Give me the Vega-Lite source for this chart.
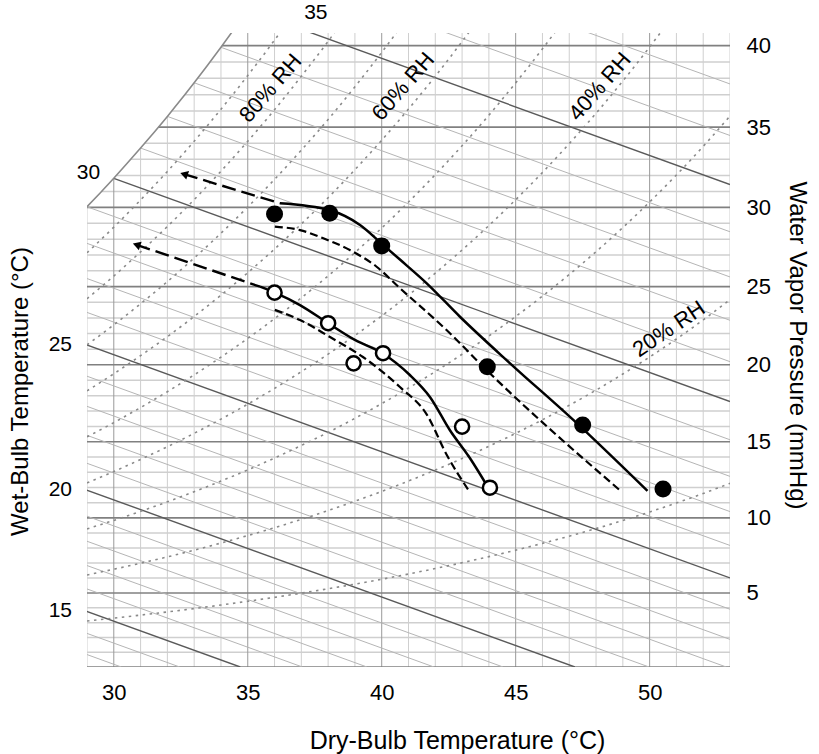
{
"$schema": "https://vega.github.io/schema/vega-lite/v6.json",
"width": 643, "height": 634,
"autosize": {"type": "none"},
"padding": {"left": 87, "top": 33, "right": 89, "bottom": 87},
"background": "white",
"config": {"view": {"stroke": null}, "font": "Liberation Sans",
  "axis": {"labelFont": "Liberation Sans", "titleFont": "Liberation Sans", "labelColor": "#000", "titleColor": "#000", "titleFontWeight": "normal", "grid": false}},
"datasets": {
 "hMinor": [
  {"T":29,"T2":53,"w":0.8195},{"T":29,"T2":53,"w":1.6412},{"T":29,"T2":53,"w":2.465},{"T":29,"T2":53,"w":3.291},
  {"T":29,"T2":53,"w":4.9496},{"T":29,"T2":53,"w":5.7822},{"T":29,"T2":53,"w":6.617},{"T":29,"T2":53,"w":7.4541},
  {"T":29,"T2":53,"w":9.1348},{"T":29,"T2":53,"w":9.9786},{"T":29,"T2":53,"w":10.8246},{"T":29,"T2":53,"w":11.6729},
  {"T":29,"T2":53,"w":13.3763},{"T":29,"T2":53,"w":14.2315},{"T":29,"T2":53,"w":15.0889},{"T":29,"T2":53,"w":15.9487},
  {"T":29,"T2":53,"w":17.6752},{"T":29,"T2":53,"w":18.542},{"T":29,"T2":53,"w":19.4111},{"T":29,"T2":53,"w":20.2826},
  {"T":29,"T2":53,"w":22.0327},{"T":29,"T2":53,"w":22.9113},{"T":29,"T2":53,"w":23.7923},{"T":29,"T2":53,"w":24.6758},
  {"T":29.54,"T2":53,"w":26.4499},{"T":30.1,"T2":53,"w":27.3407},{"T":30.63,"T2":53,"w":28.2338},{"T":31.15,"T2":53,"w":29.1295},
  {"T":32.16,"T2":53,"w":30.9282},{"T":32.65,"T2":53,"w":31.8313},{"T":33.12,"T2":53,"w":32.7368},{"T":33.59,"T2":53,"w":33.6449}
 ],
 "hMajor": [
  {"T":29,"T2":53,"w":0},{"T":29,"T2":53,"w":4.1192},{"T":29,"T2":53,"w":8.2933},{"T":29,"T2":53,"w":12.5235},
  {"T":29,"T2":53,"w":16.8108},{"T":29,"T2":53,"w":21.1565},{"T":29,"T2":53,"w":25.5616},{"T":31.66,"T2":53,"w":30.0276},
  {"T":34.04,"T2":53,"w":34.5556}
 ],
 "vMinor": [
  {"T":29,"w0":0,"w1":25.597},{"T":31,"w0":0,"w1":28.861},{"T":32,"w0":0,"w1":30.622},{"T":33,"w0":0,"w1":32.492},
  {"T":34,"w0":0,"w1":34.465},{"T":36,"w0":0,"w1":35.26},{"T":37,"w0":0,"w1":35.26},{"T":38,"w0":0,"w1":35.26},
  {"T":39,"w0":0,"w1":35.26},{"T":41,"w0":0,"w1":35.26},{"T":42,"w0":0,"w1":35.26},{"T":43,"w0":0,"w1":35.26},
  {"T":44,"w0":0,"w1":35.26},{"T":46,"w0":0,"w1":35.26},{"T":47,"w0":0,"w1":35.26},{"T":48,"w0":0,"w1":35.26},
  {"T":49,"w0":0,"w1":35.26},{"T":51,"w0":0,"w1":35.26},{"T":52,"w0":0,"w1":35.26},{"T":53,"w0":0,"w1":35.26}
 ],
 "vMajor": [
  {"T":30,"w0":0,"w1":27.18},{"T":35,"w0":0,"w1":35.26},{"T":40,"w0":0,"w1":35.26},{"T":45,"w0":0,"w1":35.26},{"T":50,"w0":0,"w1":35.26}
 ],
 "rh": [
  {"p":90,"T":29,"w":23.037},{"p":90,"T":30,"w":24.462},{"p":90,"T":31,"w":25.975},{"p":90,"T":32,"w":27.56},{"p":90,"T":33,"w":29.243},{"p":90,"T":34,"w":31.019},{"p":90,"T":35,"w":32.894},{"p":90,"T":36,"w":34.866},{"p":90,"T":37,"w":36.959},
  {"p":80,"T":29,"w":20.478},{"p":80,"T":30,"w":21.744},{"p":80,"T":31,"w":23.089},{"p":80,"T":32,"w":24.498},{"p":80,"T":33,"w":25.994},{"p":80,"T":34,"w":27.572},{"p":80,"T":35,"w":29.239},{"p":80,"T":36,"w":30.992},{"p":80,"T":37,"w":32.853},{"p":80,"T":38,"w":34.798},{"p":80,"T":39,"w":36.879},
  {"p":70,"T":29,"w":17.918},{"p":70,"T":30,"w":19.026},{"p":70,"T":31,"w":20.203},{"p":70,"T":32,"w":21.435},{"p":70,"T":33,"w":22.744},{"p":70,"T":34,"w":24.126},{"p":70,"T":35,"w":25.584},{"p":70,"T":36,"w":27.118},{"p":70,"T":37,"w":28.746},{"p":70,"T":38,"w":30.449},{"p":70,"T":39,"w":32.269},{"p":70,"T":40,"w":34.18},{"p":70,"T":41,"w":36.201},
  {"p":60,"T":29,"w":15.358},{"p":60,"T":30,"w":16.308},{"p":60,"T":31,"w":17.317},{"p":60,"T":32,"w":18.373},{"p":60,"T":33,"w":19.495},{"p":60,"T":34,"w":20.679},{"p":60,"T":35,"w":21.929},{"p":60,"T":36,"w":23.244},{"p":60,"T":37,"w":24.64},{"p":60,"T":38,"w":26.099},{"p":60,"T":39,"w":27.659},{"p":60,"T":40,"w":29.297},{"p":60,"T":41,"w":31.03},{"p":60,"T":42,"w":32.859},{"p":60,"T":43,"w":34.786},{"p":60,"T":44,"w":36.827},
  {"p":50,"T":29,"w":12.799},{"p":50,"T":30,"w":13.59},{"p":50,"T":31,"w":14.431},{"p":50,"T":32,"w":15.311},{"p":50,"T":33,"w":16.246},{"p":50,"T":34,"w":17.233},{"p":50,"T":35,"w":18.275},{"p":50,"T":36,"w":19.37},{"p":50,"T":37,"w":20.533},{"p":50,"T":38,"w":21.749},{"p":50,"T":39,"w":23.05},{"p":50,"T":40,"w":24.415},{"p":50,"T":41,"w":25.858},{"p":50,"T":42,"w":27.383},{"p":50,"T":43,"w":28.989},{"p":50,"T":44,"w":30.689},{"p":50,"T":45,"w":32.487},{"p":50,"T":46,"w":34.379},{"p":50,"T":47,"w":36.384},
  {"p":40,"T":29,"w":10.239},{"p":40,"T":30,"w":10.872},{"p":40,"T":31,"w":11.544},{"p":40,"T":32,"w":12.249},{"p":40,"T":33,"w":12.997},{"p":40,"T":34,"w":13.786},{"p":40,"T":35,"w":14.62},{"p":40,"T":36,"w":15.496},{"p":40,"T":37,"w":16.426},{"p":40,"T":38,"w":17.399},{"p":40,"T":39,"w":18.44},{"p":40,"T":40,"w":19.532},{"p":40,"T":41,"w":20.686},{"p":40,"T":42,"w":21.906},{"p":40,"T":43,"w":23.191},{"p":40,"T":44,"w":24.551},{"p":40,"T":45,"w":25.989},{"p":40,"T":46,"w":27.503},{"p":40,"T":47,"w":29.107},{"p":40,"T":48,"w":30.796},{"p":40,"T":49,"w":32.59},{"p":40,"T":50,"w":34.482},{"p":40,"T":51,"w":36.486},
  {"p":30,"T":29,"w":7.679},{"p":30,"T":30,"w":8.154},{"p":30,"T":31,"w":8.658},{"p":30,"T":32,"w":9.187},{"p":30,"T":33,"w":9.748},{"p":30,"T":34,"w":10.34},{"p":30,"T":35,"w":10.965},{"p":30,"T":36,"w":11.622},{"p":30,"T":37,"w":12.32},{"p":30,"T":38,"w":13.049},{"p":30,"T":39,"w":13.83},{"p":30,"T":40,"w":14.649},{"p":30,"T":41,"w":15.515},{"p":30,"T":42,"w":16.43},{"p":30,"T":43,"w":17.393},{"p":30,"T":44,"w":18.413},{"p":30,"T":45,"w":19.492},{"p":30,"T":46,"w":20.627},{"p":30,"T":47,"w":21.83},{"p":30,"T":48,"w":23.097},{"p":30,"T":49,"w":24.442},{"p":30,"T":50,"w":25.862},{"p":30,"T":51,"w":27.365},{"p":30,"T":52,"w":28.955},{"p":30,"T":53,"w":30.643},
  {"p":20,"T":29,"w":5.119},{"p":20,"T":30,"w":5.436},{"p":20,"T":31,"w":5.772},{"p":20,"T":32,"w":6.124},{"p":20,"T":33,"w":6.498},{"p":20,"T":34,"w":6.893},{"p":20,"T":35,"w":7.31},{"p":20,"T":36,"w":7.748},{"p":20,"T":37,"w":8.213},{"p":20,"T":38,"w":8.7},{"p":20,"T":39,"w":9.22},{"p":20,"T":40,"w":9.766},{"p":20,"T":41,"w":10.343},{"p":20,"T":42,"w":10.953},{"p":20,"T":43,"w":11.595},{"p":20,"T":44,"w":12.276},{"p":20,"T":45,"w":12.995},{"p":20,"T":46,"w":13.751},{"p":20,"T":47,"w":14.554},{"p":20,"T":48,"w":15.398},{"p":20,"T":49,"w":16.295},{"p":20,"T":50,"w":17.241},{"p":20,"T":51,"w":18.243},{"p":20,"T":52,"w":19.304},{"p":20,"T":53,"w":20.428},
  {"p":10,"T":29,"w":2.56},{"p":10,"T":30,"w":2.718},{"p":10,"T":31,"w":2.886},{"p":10,"T":32,"w":3.062},{"p":10,"T":33,"w":3.249},{"p":10,"T":34,"w":3.447},{"p":10,"T":35,"w":3.655},{"p":10,"T":36,"w":3.874},{"p":10,"T":37,"w":4.107},{"p":10,"T":38,"w":4.35},{"p":10,"T":39,"w":4.61},{"p":10,"T":40,"w":4.883},{"p":10,"T":41,"w":5.172},{"p":10,"T":42,"w":5.477},{"p":10,"T":43,"w":5.798},{"p":10,"T":44,"w":6.138},{"p":10,"T":45,"w":6.497},{"p":10,"T":46,"w":6.876},{"p":10,"T":47,"w":7.277},{"p":10,"T":48,"w":7.699},{"p":10,"T":49,"w":8.147},{"p":10,"T":50,"w":8.621},{"p":10,"T":51,"w":9.122},{"p":10,"T":52,"w":9.652},{"p":10,"T":53,"w":10.214}
 ],
 "wbMinor": [
  {"tw":13,"T":13,"w":9.329},{"tw":13,"T":30.28,"w":0},
  {"tw":14,"T":14,"w":9.97},{"tw":14,"T":32.46,"w":0},
  {"tw":16,"T":16,"w":11.359},{"tw":16,"T":37.04,"w":0},
  {"tw":17,"T":17,"w":12.123},{"tw":17,"T":39.45,"w":0},
  {"tw":18,"T":18,"w":12.933},{"tw":18,"T":41.95,"w":0},
  {"tw":19,"T":19,"w":13.787},{"tw":19,"T":44.53,"w":0},
  {"tw":21,"T":21,"w":15.648},{"tw":21,"T":49.98,"w":0},
  {"tw":22,"T":22,"w":16.664},{"tw":22,"T":52.86,"w":0},
  {"tw":23,"T":23,"w":17.736},{"tw":23,"T":53,"w":1.536},
  {"tw":24,"T":24,"w":18.872},{"tw":24,"T":53,"w":3.212},
  {"tw":26,"T":26,"w":21.34},{"tw":26,"T":53,"w":6.76},
  {"tw":27,"T":27,"w":22.683},{"tw":27,"T":53,"w":8.643},
  {"tw":28,"T":28,"w":24.101},{"tw":28,"T":53,"w":10.601},
  {"tw":29,"T":29,"w":25.597},{"tw":29,"T":53,"w":12.637},
  {"tw":31,"T":31,"w":28.861},{"tw":31,"T":53,"w":16.981},
  {"tw":32,"T":32,"w":30.622},{"tw":32,"T":53,"w":19.282},
  {"tw":33,"T":33,"w":32.492},{"tw":33,"T":53,"w":21.692},
  {"tw":34,"T":34,"w":34.465},{"tw":34,"T":53,"w":24.205},
  {"tw":36,"T":36,"w":38.74},{"tw":36,"T":53,"w":29.56},
  {"tw":37,"T":37,"w":41.066},{"tw":37,"T":53,"w":32.426}
 ],
 "wbMajor": [
  {"tw":15,"T":15,"w":10.647},{"tw":15,"T":34.72,"w":0},
  {"tw":20,"T":20,"w":14.694},{"tw":20,"T":47.21,"w":0},
  {"tw":25,"T":25,"w":20.073},{"tw":25,"T":53,"w":4.953},
  {"tw":30,"T":30,"w":27.18},{"tw":30,"T":53,"w":14.76},
  {"tw":35,"T":35,"w":36.549},{"tw":35,"T":53,"w":26.829}
 ],
 "sat": [
  {"T":29,"w":25.597},{"T":29.5,"w":26.379},{"T":30,"w":27.18},{"T":30.5,"w":28.011},{"T":31,"w":28.861},{"T":31.5,"w":29.731},
  {"T":32,"w":30.622},{"T":32.5,"w":31.542},{"T":33,"w":32.492},{"T":33.5,"w":33.463},{"T":34,"w":34.465},{"T":34.5,"w":35.496}
 ],
 "paths": [
  {"id":"upperArrow","T":36.2,"w":25.79},{"id":"upperArrow","T":32.62,"w":27.41},
  {"id":"upperSolid","T":36.2,"w":25.79},{"id":"upperSolid","T":38.07,"w":25.4},{"id":"upperSolid","T":39.19,"w":24.58},{"id":"upperSolid","T":40.01,"w":23.53},{"id":"upperSolid","T":40.68,"w":22.66},{"id":"upperSolid","T":41.68,"w":21.34},{"id":"upperSolid","T":42.92,"w":19.48},{"id":"upperSolid","T":44.79,"w":16.89},{"id":"upperSolid","T":47.15,"w":13.74},{"id":"upperSolid","T":49.92,"w":9.79},
  {"id":"upperDash","T":36.01,"w":24.49},{"id":"upperDash","T":36.95,"w":24.3},{"id":"upperDash","T":37.82,"w":23.84},{"id":"upperDash","T":38.81,"w":23.19},{"id":"upperDash","T":39.81,"w":22.26},{"id":"upperDash","T":40.62,"w":21.15},{"id":"upperDash","T":42.42,"w":18.74},{"id":"upperDash","T":43.91,"w":16.52},{"id":"upperDash","T":48.95,"w":9.75},
  {"id":"lowerArrow","T":35.46,"w":21.15},{"id":"lowerArrow","T":30.85,"w":23.48},
  {"id":"lowerSolid","T":35.46,"w":21.15},{"id":"lowerSolid","T":36.01,"w":20.82},{"id":"lowerSolid","T":36.95,"w":20.13},{"id":"lowerSolid","T":38.0,"w":19.12},{"id":"lowerSolid","T":39.0,"w":18.19},{"id":"lowerSolid","T":40.03,"w":17.45},{"id":"lowerSolid","T":41.05,"w":16.24},{"id":"lowerSolid","T":41.8,"w":15.02},{"id":"lowerSolid","T":42.54,"w":13.18},{"id":"lowerSolid","T":43.29,"w":11.62},{"id":"lowerSolid","T":43.96,"w":10.01},
  {"id":"lowerDash","T":36.01,"w":19.86},{"id":"lowerDash","T":36.95,"w":19.3},{"id":"lowerDash","T":38.07,"w":18.35},{"id":"lowerDash","T":39.3,"w":17.24},{"id":"lowerDash","T":40.68,"w":15.57},{"id":"lowerDash","T":41.69,"w":14.02},{"id":"lowerDash","T":42.43,"w":11.79},{"id":"lowerDash","T":43.22,"w":9.88}
 ],
 "heads": [{"T":32.62,"w":27.41},{"T":30.85,"w":23.48}],
 "filled": [{"T":36.0,"w":25.19},{"T":38.06,"w":25.23},{"T":40.0,"w":23.42},{"T":43.94,"w":16.7},{"T":47.5,"w":13.46},{"T":50.5,"w":9.9}],
 "open": [{"T":36.0,"w":20.82},{"T":38.0,"w":19.12},{"T":38.95,"w":16.89},{"T":40.05,"w":17.45},{"T":43.0,"w":13.37},{"T":44.04,"w":9.97}],
 "wbLabR": [{"label":"15","T":28.44,"w":3.087},{"label":"20","T":28.44,"w":9.834},{"label":"25","T":28.44,"w":17.913},{"label":"30","T":29.49,"w":27.46}],
 "wbLabTop": [{"label":"35","T":37.54,"w":36.4}],
 "rhLab": [{"label":"80% RH","T":35.85,"w":32.19},{"label":"60% RH","T":40.8,"w":32.28},{"label":"40% RH","T":48.14,"w":32.28}],
 "rhLab20": [{"label":"20% RH","T":50.72,"w":18.8}]
},
"encoding": {
 "x": {"field": "T", "type": "quantitative", "scale": {"domain": [29, 53], "nice": false, "zero": false},
   "axis": {"title": "Dry-Bulb Temperature (°C)", "values": [30, 35, 40, 45, 50], "format": "d", "ticks": false, "domain": false, "grid": false, "labelPadding": 15, "labelFontSize": 22, "titleFontSize": 25, "titleX": 370, "titleY": 73, "titleAlign": "center", "titleBaseline": "middle"}},
 "y": {"field": "w", "type": "quantitative", "scale": {"domain": [0, 35.26], "nice": false, "zero": false}, "axis": null}
},
"layer": [
 {"data": {"name": "hMinor"}, "mark": {"type": "rule", "color": "#cfcfcf", "strokeWidth": 1.5, "clip": true},
  "encoding": {"x2": {"field": "T2"},
   "y": {"field": "w", "type": "quantitative", "scale": {"domain": [0, 35.26], "nice": false, "zero": false},
     "axis": {"orient": "right", "values": [4.1192, 8.2933, 12.5235, 16.8108, 21.1565, 25.5616, 30.0276, 34.5556], "labelExpr": "format(datum.value*760/(622+datum.value), '.0f')", "ticks": false, "domain": false, "grid": false, "labelPadding": 16, "labelFontSize": 22, "labelAlign": "left", "labelBaseline": "middle", "title": "Water Vapor Pressure (mmHg)", "titleFontSize": 24, "titleAngle": 90, "titleX": 66, "titleY": 312, "titleAlign": "center", "titleBaseline": "middle"}}}},
 {"data": {"name": "vMinor"}, "mark": {"type": "rule", "color": "#cfcfcf", "strokeWidth": 1, "clip": true},
  "encoding": {
   "y": {"field": "w0", "type": "quantitative", "scale": {"domain": [0, 35.26], "nice": false, "zero": false},
     "axis": {"orient": "left", "labels": false, "ticks": false, "domain": false, "grid": false, "title": "Wet-Bulb Temperature (°C)", "titleFontSize": 24, "titleAngle": -90, "titleX": -67, "titleY": 358, "titleAlign": "center", "titleBaseline": "middle"}},
   "y2": {"field": "w1"}}},
 {"data": {"name": "vMajor"}, "mark": {"type": "rule", "color": "#9a9a9a", "strokeWidth": 1, "clip": true},
  "encoding": {"y": {"field": "w0", "type": "quantitative", "axis": null}, "y2": {"field": "w1"}}},
 {"data": {"name": "hMajor"}, "mark": {"type": "rule", "color": "#808080", "strokeWidth": 1.6, "clip": true},
  "encoding": {"x2": {"field": "T2"}}},
 {"data": {"name": "wbMinor"}, "mark": {"type": "line", "color": "#b5b5b5", "strokeWidth": 1, "clip": true},
  "encoding": {"detail": {"field": "tw", "type": "nominal"}}},
 {"data": {"name": "wbMajor"}, "mark": {"type": "line", "color": "#5a5a5a", "strokeWidth": 1.4, "clip": true},
  "encoding": {"detail": {"field": "tw", "type": "nominal"}}},
 {"data": {"name": "rh"}, "mark": {"type": "line", "color": "#8a8a8a", "strokeWidth": 1.6, "strokeDash": [2.5, 4.5], "interpolate": "monotone", "clip": true},
  "encoding": {"detail": {"field": "p", "type": "nominal"}}},
 {"data": {"name": "sat"}, "mark": {"type": "line", "color": "#8a8a8a", "strokeWidth": 1.6, "interpolate": "monotone", "clip": true},
  "encoding": {}},
 {"data": {"name": "paths"}, "transform": [{"filter": "datum.id === 'upperArrow' || datum.id === 'lowerArrow'"}],
  "mark": {"type": "line", "color": "#000", "strokeWidth": 2.4, "strokeDash": [14, 6]},
  "encoding": {"detail": {"field": "id", "type": "nominal"}}},
 {"data": {"name": "paths"}, "transform": [{"filter": "datum.id === 'upperDash' || datum.id === 'lowerDash'"}],
  "mark": {"type": "line", "color": "#000", "strokeWidth": 2.2, "strokeDash": [8, 4], "interpolate": "monotone"},
  "encoding": {"detail": {"field": "id", "type": "nominal"}}},
 {"data": {"name": "paths"}, "transform": [{"filter": "datum.id === 'upperSolid' || datum.id === 'lowerSolid'"}],
  "mark": {"type": "line", "color": "#000", "strokeWidth": 2.5, "interpolate": "monotone"},
  "encoding": {"detail": {"field": "id", "type": "nominal"}}},
 {"data": {"name": "heads"}, "mark": {"type": "point", "shape": "triangle-left", "filled": true, "color": "#000", "size": 80, "angle": 18, "opacity": 1}},
 {"data": {"name": "filled"}, "mark": {"type": "point", "shape": "circle", "filled": true, "color": "#000", "size": 290, "opacity": 1}},
 {"data": {"name": "open"}, "mark": {"type": "point", "shape": "circle", "filled": false, "fill": "#fff", "stroke": "#000", "strokeWidth": 2.5, "size": 200, "opacity": 1, "fillOpacity": 1}},
 {"data": {"name": "wbLabR"}, "mark": {"type": "text", "align": "right", "baseline": "middle", "fontSize": 21, "color": "#000"},
  "encoding": {"text": {"field": "label", "type": "nominal"}}},
 {"data": {"name": "wbLabTop"}, "mark": {"type": "text", "align": "center", "baseline": "middle", "fontSize": 21, "color": "#000"},
  "encoding": {"text": {"field": "label", "type": "nominal"}}},
 {"data": {"name": "rhLab"}, "mark": {"type": "text", "align": "center", "baseline": "middle", "fontSize": 22, "angle": -49, "color": "#000"},
  "encoding": {"text": {"field": "label", "type": "nominal"}}},
 {"data": {"name": "rhLab20"}, "mark": {"type": "text", "align": "center", "baseline": "middle", "fontSize": 22, "angle": -34, "color": "#000"},
  "encoding": {"text": {"field": "label", "type": "nominal"}}}
],
"resolve": {"axis": {"y": "independent"}}
}
